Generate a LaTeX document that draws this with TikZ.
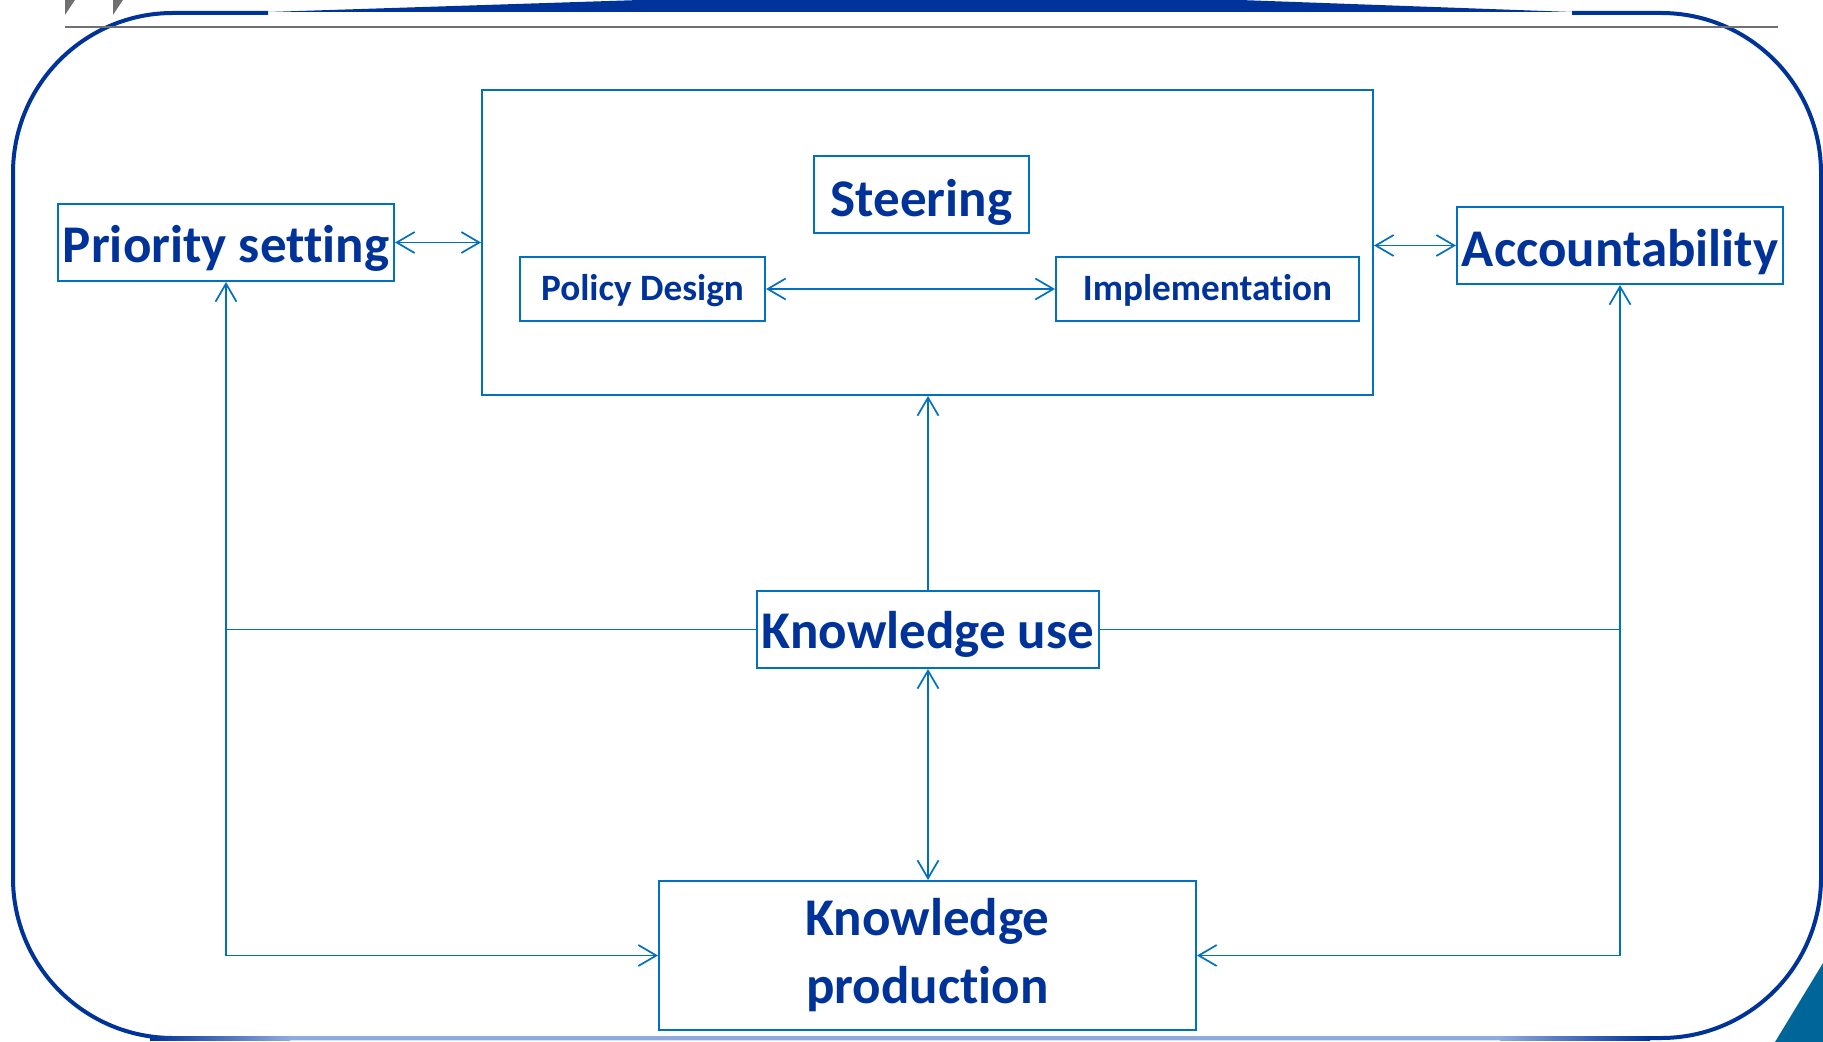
\documentclass[tikz,border=0pt]{standalone}
\usepackage{fontspec}
\setmainfont{Carlito}[Ligatures=CommonOff]
\usetikzlibrary{arrows.meta}
\begin{document}
\begin{tikzpicture}[x=0.5pt,y=-0.5pt,
  >={Straight Barb[length=9pt,width=10.5pt]},
  box/.style={draw=linec, line width=1pt, inner sep=0pt, text=textc, align=center,
    text height=20pt, text depth=0pt, font=\bfseries\fontsize{26.5}{34}\selectfont},
  smallbox/.style={box, text height=12pt, font=\bfseries\fontsize{18.6}{22}\selectfont},
  link/.style={linec, line width=0.85pt},
  frame/.style={framec, line width=2pt}]
\definecolor{linec}{RGB}{0,112,192}
\definecolor{textc}{RGB}{0,51,153}
\definecolor{framec}{RGB}{0,51,153}
\definecolor{framel}{RGB}{143,170,220}
\definecolor{greyc}{RGB}{112,112,112}
\definecolor{tealc}{RGB}{0,102,153}
\def\W{1823};\def\H{1042};
\useasboundingbox (0,0) rectangle (\W,\H);
\fill[white] (0,0) rectangle (\W,\H);
\draw[frame, rounded corners=80pt] (268,13)--(13,13)--(13,1038)--(1821,1038)--(1821,13)--(1572,13);
\shade[left color=framec, right color=framel] (150,1036) rectangle (290,1040);
\fill[framel] (290,1036) rectangle (1500,1040);
\shade[left color=framel, right color=framec] (1500,1036) rectangle (1650,1040);
\fill[framec] (268,12)--(640,0)--(1240,0)--(1572,12)--cycle;
\draw[greyc, line width=1pt] (65,27)--(1778,27);
\fill[greyc] (65,0)--(75,0)--(65,15)--cycle;
\fill[greyc] (113,0)--(123,0)--(113,15)--cycle;
\fill[tealc] (1775,1042)--(1823,963)--(1823,1042)--cycle;

\node[box, minimum width=168pt, minimum height=38.5pt] (prio) at (226,242.5) {Priority setting};
\node[box, minimum width=445.5pt, minimum height=152.5pt] (steer) at (927.5,242.5) {};
\node[box, minimum width=107.5pt, minimum height=38.5pt, text height=22pt] (steertitle) at (921.5,194.5) {Steering};
\node[smallbox, minimum width=122.5pt, minimum height=32pt] (design) at (642.5,289) {Policy Design};
\node[smallbox, minimum width=151.5pt, minimum height=32pt] (impl) at (1207.5,289) {Implementation};
\node[box, minimum width=163pt, minimum height=38.5pt, text height=21pt] (account) at (1620,245.5) {Accountability};
\node[box, minimum width=171pt, minimum height=38.5pt, text height=19pt] (use) at (928,629.5) {Knowledge use};
\node[box, minimum width=268.5pt, minimum height=74.5pt, text height={}, text depth={}] (prod) at (927.5,955.5) {Knowledge\\production};

\draw[link,<->] (prio.east)--(prio.east -| steer.west);
\draw[link,<->] (design)--(impl);
\draw[link,<->] (account.west -| steer.east)--(account.west);
\draw[link,->] (use.north)--(use.north |- steer.south);
\draw[link,<->] (use.south)--(use.south |- prod.north);
\coordinate (ljoin) at (prio.south |- use.west);
\coordinate (rjoin) at (account.south |- use.east);
\draw[link,->] (use.west) -| (prio.south);
\draw[link,->] (ljoin) |- (prod.west);
\draw[link,->] (use.east) -| (account.south);
\draw[link,->] (rjoin) |- (prod.east);
\end{tikzpicture}
\end{document}
